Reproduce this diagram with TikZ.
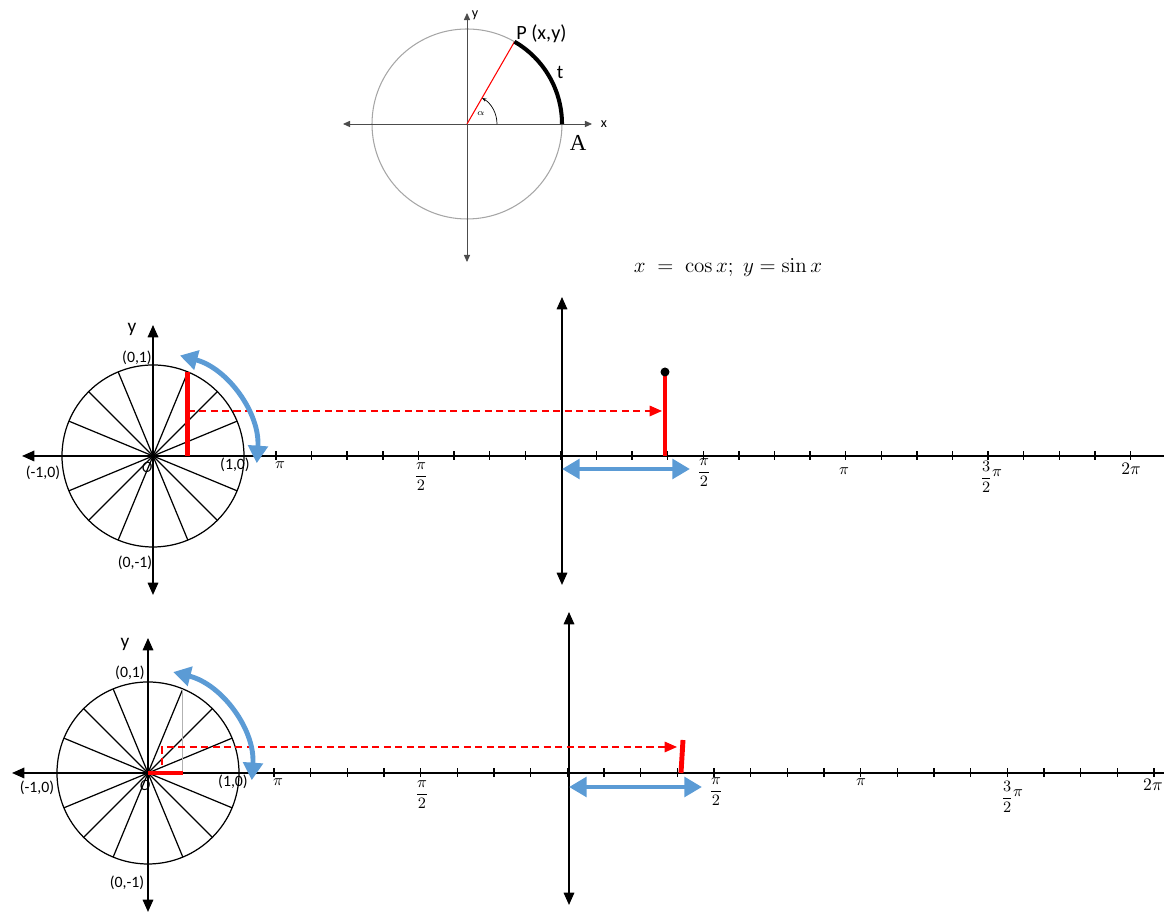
\documentclass[tikz,border=0pt]{standalone}
\usepackage{amsmath}
\usepackage[no-math]{fontspec}
\setmainfont{Carlito}
\newfontfamily\serifA{Liberation Serif}
\usetikzlibrary{arrows.meta,positioning}
\definecolor{arrowblue}{HTML}{5B9BD5}
\definecolor{circlegray}{HTML}{A6A6A6}
\tikzset{
    numaxis/.style={draw, line width=0.9pt, {Triangle[length=7pt,width=6pt]}-{Triangle[length=7pt,width=6pt]}},
    leftaxis/.style={draw, line width=0.9pt, {Triangle[length=7pt,width=6pt]}-},
    smallaxis/.style={draw, gray!60!black, line width=0.5pt, {Triangle[length=4pt,width=3.5pt]}-{Triangle[length=4pt,width=3.5pt]}},
    spoke/.style={draw, line width=0.7pt},
    tickmark/.style={draw, line width=0.8pt},
    sinebar/.style={draw, red, line width=2.8pt},
    guide/.style={draw, red, line width=0.7pt, dash pattern=on 4pt off 2.5pt, -{Triangle[length=7pt,width=6pt]}},
    sweep/.style={draw, arrowblue, line width=2.8pt, {Triangle[length=10pt,width=11pt]}-{Triangle[length=10pt,width=11pt]}},
    coordlabel/.style={font=\fontsize{9}{10}\selectfont, inner sep=0pt},
    axislabel/.style={font=\fontsize{11}{12}\selectfont, inner sep=0pt},
    ticklabel/.style={font=\fontsize{9}{10}\selectfont, inner sep=0pt}
}

\begin{document}
\begin{tikzpicture}[x=0.02cm, y=0.02cm]
\useasboundingbox (0,0) rectangle (1164,915);

% Unit circle at the top
\coordinate (O0) at (467,791);
\draw[circlegray, line width=0.6pt] (O0) circle[radius=95];
\coordinate (xl) at (343,791);
\coordinate (xr) at (592,791);
\coordinate (yb) at (467,653);
\coordinate (yt) at (467,902);
\draw[smallaxis] (xl) -- (xr);
\draw[smallaxis] (yb) -- (yt);
\path (O0) ++(60:95) coordinate (P);
\path (O0) ++(0:95) coordinate (A);
\draw[red, line width=0.6pt] (O0) -- (P);
\draw[line width=2.3pt] (A) arc[start angle=0, end angle=60, radius=95];
\draw[line width=0.4pt, -{Stealth[length=2.5pt]}] (O0) ++(0:30) arc[start angle=0, end angle=60, radius=30];
\node[font=\fontsize{5}{5}\selectfont, inner sep=0pt] (alpha) at (481,801) {$\alpha$};
\node[font=\fontsize{11.5}{12}\selectfont, inner sep=0pt, anchor=west] (Plabel) at (516,881) {P (x,y)};
\node[axislabel] (tlabel) at (560,843) {t};
\node[font=\serifA\fontsize{13}{14}\selectfont, inner sep=0pt] (Alabel) at (578,772) {A};
\node[font=\fontsize{8}{8}\selectfont, inner sep=0pt] (xlabel) at (604,791) {x};
\node[font=\fontsize{8}{8}\selectfont, inner sep=0pt] (ylabel) at (475,900) {y};

\node[font=\fontsize{13}{15}\selectfont] (formula) at (728,647) {$x \;=\; \cos x;\; y = \sin x$};

% Middle panel: sine as height
\coordinate (C1) at (153,459);
\draw[spoke] (C1) circle[radius=91];
\foreach \a in {22.5,45,67.5,112.5,135,157.5}
    \draw[spoke] (C1) ++(\a:91) -- ++(\a+180:182);
\coordinate (L1) at (22,459);
\coordinate (R1) at (1164,459);
\coordinate (B1) at (153,320);
\coordinate (T1) at (153,590);
\coordinate (B1r) at (562,330);
\coordinate (T1r) at (562,618);
\draw[leftaxis] (L1) -- (R1);
\draw[numaxis] (B1) -- (T1);
\draw[numaxis] (B1r) -- (T1r);
\foreach \k in {0,...,24}
    \draw[tickmark] (276+35.6*\k,455) -- (276+35.6*\k,464);

\path (C1) ++(67.5:91) coordinate (S1);
\coordinate (F1) at (S1 |- C1);
\draw[sinebar] (F1) -- (S1);
\coordinate (G1s) at (187.8,504);
\coordinate (G1e) at (662,504);
\draw[guide] (G1s) -- (G1e);
\coordinate (F1r) at (665,459);
\coordinate (S1r) at (665,543);
\draw[sinebar] (F1r) -- (S1r);
\fill (S1r) circle[radius=4.5];
\coordinate (W1s) at (562,446);
\coordinate (W1e) at (690,446);
\draw[sweep] (W1s) -- (W1e);
\draw[sweep] (C1) ++(-4:104) arc[start angle=-4, end angle=75, radius=104];

\node[axislabel] (y1) at (132,586) {y};
\node[coordlabel] (top1) at (137,557) {(0,1)};
\node[coordlabel] (left1) at (43,442) {(-1,0)};
\node[coordlabel] (right1) at (235,450) {(1,0)};
\node[coordlabel] (bot1) at (135,352) {(0,-1)};
\node[coordlabel] (o1) at (147,448) {\textit{O}};
\node[ticklabel] (pi1a) at (280,450) {$\pi$};
\node[ticklabel] (hpi1a) at (421,438) {$\dfrac{\pi}{2}$};
\node[ticklabel] (hpi1b) at (704,442) {$\dfrac{\pi}{2}$};
\node[ticklabel] (pi1b) at (844,444) {$\pi$};
\node[ticklabel] (tpi1) at (991,438) {$\dfrac{3}{2}$\raisebox{3pt}{$\pi$}};
\node[ticklabel, font=\fontsize{10}{11}\selectfont] (dpi1) at (1131,446) {$2\pi$};

% Bottom panel: cosine as height
\coordinate (C2) at (148,142);
\draw[spoke] (C2) circle[radius=91];
\foreach \a in {22.5,45,67.5,112.5,135,157.5}
    \draw[spoke] (C2) ++(\a:91) -- ++(\a+180:182);
\coordinate (L2) at (12,142);
\coordinate (R2) at (1164,142);
\coordinate (B2) at (148,3);
\coordinate (T2) at (148,277);
\coordinate (B2r) at (569,10);
\coordinate (T2r) at (569,303);
\draw[leftaxis] (L2) -- (R2);
\draw[numaxis] (B2) -- (T2);
\draw[numaxis] (B2r) -- (T2r);
\foreach \k in {0,...,24}
    \draw[tickmark] (274+36.67*\k,138) -- (274+36.67*\k,147);

\path (C2) ++(67.5:91) coordinate (S2);
\coordinate (F2) at (S2 |- C2);
\draw[gray!60, line width=0.5pt] (F2) -- (S2);
\draw[sinebar] (C2) -- (F2);
\coordinate (G2a) at (162,150);
\coordinate (G2b) at (162,168);
\coordinate (G2e) at (677,168);
\draw[guide] (G2a) -- (G2b) -- (G2e);
\coordinate (F2r) at (681,142);
\coordinate (S2r) at (683,175);
\draw[sinebar] (F2r) -- (S2r);
\coordinate (W2s) at (569,128);
\coordinate (W2e) at (702,128);
\draw[sweep] (W2s) -- (W2e);
\draw[sweep] (C2) ++(-4:104) arc[start angle=-4, end angle=76, radius=104];

\node[axislabel] (y2) at (125,271) {y};
\node[coordlabel] (top2) at (130,242) {(0,1)};
\node[coordlabel] (left2) at (37,127) {(-1,0)};
\node[coordlabel] (right2) at (233,133) {(1,0)};
\node[coordlabel] (bot2) at (127,32) {(0,-1)};
\node[coordlabel] (o2) at (145,130) {\textit{O}};
\node[ticklabel] (pi2a) at (278,133) {$\pi$};
\node[ticklabel] (hpi2a) at (422,120) {$\dfrac{\pi}{2}$};
\node[ticklabel] (hpi2b) at (716,123) {$\dfrac{\pi}{2}$};
\node[ticklabel] (pi2b) at (861,133) {$\pi$};
\node[ticklabel] (tpi2) at (1012,118) {$\dfrac{3}{2}$\raisebox{3pt}{$\pi$}};
\node[ticklabel, font=\fontsize{10}{11}\selectfont, anchor=east] (dpi2) at (1163,130) {$2\pi$};
\end{tikzpicture}
\end{document}
